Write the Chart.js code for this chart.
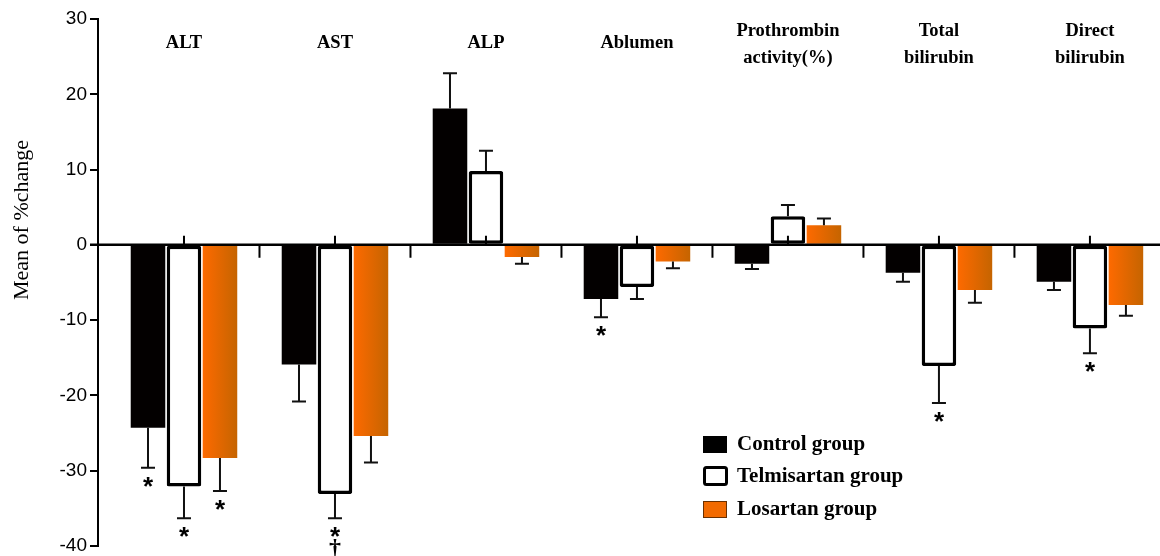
<!DOCTYPE html>
<html>
<head>
<meta charset="utf-8">
<script src="https://cdn.jsdelivr.net/npm/chart.js@4.4.1/dist/chart.umd.min.js"></script>
<style>
  body { margin: 0; background: #fff; }
  #wrap { width: 1160px; height: 556px; position: relative; }
</style>
</head>
<body>
<div id="wrap"><canvas id="liver_graph"></canvas></div>
<script>
// values (mean % change, and the one-sided SD bar)
const categories = ['ALT', 'AST', 'ALP', 'Ablumen', ['Prothrombin', 'activity(%)'], ['Total', 'bilirubin'], ['Direct', 'bilirubin']];
const seriesNames = ['Control group', 'Telmisartan group', 'Losartan group'];
const controlMean = [-24.3, -15.9, 18.1, -7.2, -2.5, -3.7, -4.9];
const controlSD = [5.3, 4.9, 4.7, 2.4, 0.7, 1.2, 1.1];
const telmiMean = [-32.1, -33.1, 9.8, -5.6, 3.8, -16.1, -11.1];
const telmiSD = [4.2, 3.2, 2.7, 1.6, 1.5, 4.9, 3.3];
const losartanMean = [-28.3, -25.4, -1.6, -2.2, 2.6, -6.0, -8.0];
const losartanSD = [4.4, 3.5, 0.9, 0.9, 0.9, 1.7, 1.4];
const controlMarks = ['*', '', '', '*', '', '', ''];
const telmiMarks = ['*', '*†', '', '', '', '*', '*'];
const losartanMarks = ['*', '', '', '', '', '', ''];
const yTicks = [-40, -30, -20, -10, 0, 10, 20, 30];

const sdList = [controlSD, telmiSD, losartanSD];
const markList = [controlMarks, telmiMarks, losartanMarks];
const serif = '"Liberation Serif", "Times New Roman", serif';

function toPoints(arr) {
    return arr.map((v, i) => ({x: i, y: v}));
}

// orange bars: dark-to-light gradient per bar
function orangeFill(context) {
    const chart = context.chart;
    const xs = chart.scales.x;
    if (!xs || context.dataIndex === undefined) return '#f26a00';
    const c = xs.getPixelForValue(context.dataIndex);
    const slot = (xs.getPixelForValue(1) - xs.getPixelForValue(0)) * 0.715 / 3;
    if (!isFinite(c) || !isFinite(slot)) return '#f26a00';
    const g = chart.ctx.createLinearGradient(c + slot * 0.5, 0, c + slot * 1.5, 0);
    g.addColorStop(0, '#ff6a00');
    g.addColorStop(1, '#c46400');
    return g;
}

const extras = {
    id: 'extras',
    afterDraw(chart) {
        const ctx = chart.ctx;
        const xs = chart.scales.x;
        const ys = chart.scales.y;
        const zero = ys.getPixelForValue(0);
        ctx.save();

        // error bars + significance marks
        chart.data.datasets.forEach((ds, d) => {
            const meta = chart.getDatasetMeta(d);
            meta.data.forEach((bar, i) => {
                const mean = ds.data[i].y;
                const sign = mean < 0 ? -1 : 1;
                const y0 = ys.getPixelForValue(mean);
                const y1 = ys.getPixelForValue(mean + sign * sdList[d][i]);
                ctx.strokeStyle = '#111';
                ctx.lineWidth = 2;
                ctx.beginPath();
                ctx.moveTo(bar.x, y0);
                ctx.lineTo(bar.x, y1);
                ctx.moveTo(bar.x - 7, y1);
                ctx.lineTo(bar.x + 7, y1);
                ctx.stroke();

                const marks = markList[d][i];
                let ty = y1 + 12;
                for (const m of marks) {
                    ctx.fillStyle = '#000';
                    ctx.textAlign = 'center';
                    if (m === '*') {
                        ctx.font = 'bold 26px "Liberation Sans", Arial, sans-serif';
                        ctx.textBaseline = 'alphabetic';
                        ctx.fillText('*', bar.x, ty + 15);
                        ty += 15;
                    } else {
                        ctx.font = 'bold 24px ' + serif;
                        ctx.textBaseline = 'alphabetic';
                        ctx.fillText(m, bar.x, ty + 10);
                        ty += 15;
                    }
                }
            });
        });

        // zero line with group ticks
        ctx.strokeStyle = '#000';
        ctx.lineWidth = 2.5;
        ctx.beginPath();
        ctx.moveTo(chart.chartArea.left - 8, zero);
        ctx.lineTo(chart.width, zero);
        ctx.stroke();
        ctx.lineWidth = 2;
        ctx.beginPath();
        for (let i = 0; i < categories.length; i++) {
            const c = xs.getPixelForValue(i);
            ctx.moveTo(c, zero - 9);
            ctx.lineTo(c, zero);
            if (i < categories.length - 1) {
                const b = xs.getPixelForValue(i + 0.5);
                ctx.moveTo(b, zero);
                ctx.lineTo(b, zero + 13);
            }
        }
        ctx.stroke();

        // category labels along the top
        ctx.fillStyle = '#000';
        ctx.font = 'bold 18.5px ' + serif;
        ctx.textAlign = 'center';
        ctx.textBaseline = 'middle';
        categories.forEach((lab, i) => {
            const c = xs.getPixelForValue(i);
            if (Array.isArray(lab)) {
                ctx.fillText(lab[0], c, 31);
                ctx.fillText(lab[1], c, 58);
            } else {
                ctx.fillText(lab, c, 43);
            }
        });

        // y title
        ctx.save();
        ctx.translate(22, 220);
        ctx.rotate(-Math.PI / 2);
        ctx.font = '22px ' + serif;
        ctx.fillText('Mean of %change', 0, 0);
        ctx.restore();

        // legend
        const lx = 703, rows = [444, 476, 509];
        ctx.font = 'bold 21px ' + serif;
        ctx.textAlign = 'left';
        rows.forEach((ry, k) => {
            if (k === 0) {
                ctx.fillStyle = '#000';
                ctx.fillRect(lx, ry - 8, 24, 17);
            } else if (k === 1) {
                ctx.fillStyle = '#fff';
                ctx.strokeStyle = '#000';
                ctx.lineWidth = 3;
                ctx.beginPath();
                ctx.roundRect(lx + 1.5, ry - 8.5, 22, 17, 2);
                ctx.fill();
                ctx.stroke();
            } else {
                ctx.fillStyle = '#f26a00';
                ctx.strokeStyle = '#6a3000';
                ctx.lineWidth = 1;
                ctx.fillRect(lx, ry - 8, 24, 17);
                ctx.strokeRect(lx + 0.5, ry - 7.5, 23, 16);
            }
            ctx.fillStyle = '#000';
            ctx.fillText(seriesNames[k], lx + 34, ry + 1);
        });

        ctx.restore();
    }
};

new Chart(document.getElementById('liver_graph'), {
    type: 'bar',
    data: {
        datasets: [{
            label: seriesNames[0],
            data: toPoints(controlMean),
            backgroundColor: '#030000',
            borderWidth: 0
        },
        {
            label: seriesNames[1],
            data: toPoints(telmiMean),
            backgroundColor: '#fff',
            borderColor: '#000',
            borderWidth: 3.5,
            borderSkipped: false,
            borderRadius: 2
        },
        {
            label: seriesNames[2],
            data: toPoints(losartanMean),
            backgroundColor: orangeFill,
            borderWidth: 0
        }]
    },
    options: {
        responsive: true,
        maintainAspectRatio: false,
        animation: false,
        categoryPercentage: 0.715,
        barPercentage: 0.96,
        layout: { padding: 0 },
        plugins: {
            legend: { display: false },
            tooltip: { enabled: false }
        },
        scales: {
            x: {
                type: 'linear',
                display: false,
                offset: false,
                bounds: 'data',
                grace: 0,
                min: -0.5695,
                max: 6.464,
                afterBuildTicks: (scale) => {
                    scale.ticks = categories.map((c, i) => ({value: i}));
                }
            },
            y: {
                min: -40,
                max: 30,
                afterFit: (scale) => {
                    scale.width = 98;
                    scale.paddingTop = 19;
                    scale.paddingBottom = 10;
                },
                afterBuildTicks: (scale) => {
                    scale.ticks = yTicks.map(v => ({value: v}));
                },
                grid: {
                    drawOnChartArea: false,
                    drawTicks: true,
                    tickLength: 8,
                    color: '#000',
                    lineWidth: 2
                },
                border: { display: true, color: '#000', width: 2 },
                ticks: {
                    color: '#000',
                    padding: 3,
                    font: { family: '"Liberation Sans", Arial, sans-serif', size: 19 }
                }
            }
        }
    },
    plugins: [extras]
});
</script>
</body>
</html>
